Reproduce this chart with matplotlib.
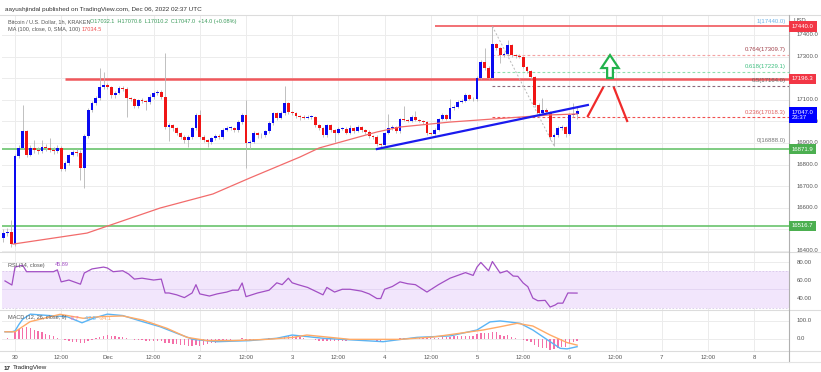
import numpy as np
import matplotlib
matplotlib.use("Agg")
import matplotlib.pyplot as plt
from matplotlib.patches import Polygon

# === Data (hourly candles, hour 0 = Nov 30 00:00) ===
hours = list(range(-3, 147))
first_open = 16460
closes = [16483, 16488, 16432, 16840, 16877, 16956, 16844, 16877, 16868, 16863,
          16881, 16877, 16868, 16863, 16877, 16780, 16807, 16844, 16858, 16854,
          16784, 16932, 17053, 17085, 17108, 17159, 17169, 17159, 17122, 17131,
          17155, 17150, 17108, 17104, 17071, 17099, 17094, 17090, 17113, 17131,
          17136, 17113, 16974, 16983, 16969, 16946, 16928, 16914, 16928, 16969,
          17030, 16928, 16914, 16905, 16923, 16932, 16928, 16960, 16969, 16969,
          16960, 16997, 17030, 16900, 16905, 16946, 16937, 16935, 16956, 16992,
          17039, 17016, 17039, 17085, 17044, 17039, 17025, 17020, 17018, 17020,
          17020, 16983, 16969, 16937, 16983, 16960, 16946, 16965, 16967, 16946,
          16969, 16955, 16974, 16960, 16951, 16932, 16928, 16895, 16893, 16946,
          16969, 16974, 16955, 17011, 17006, 17002, 17020, 17006, 17002, 16997,
          16946, 16944, 16960, 17011, 17030, 17011, 17062, 17067, 17090, 17094,
          17122, 17104, 17102, 17201, 17275, 17247, 17201, 17358, 17340, 17307,
          17312, 17354, 17307, 17303, 17300, 17252, 17233, 17206, 17076, 17039,
          17053, 17044, 16928, 16937, 16969, 16974, 16942, 17030, 17032.1, 17047]
highs = [16500, 16505, 16545, 16850, 16890, 17076, 16962, 16890, 16914, 16880,
         16915, 16895, 16923, 16880, 16892, 16885, 16815, 16850, 16866, 16870,
         16866, 16940, 17060, 17095, 17118, 17247, 17229, 17180, 17165, 17140,
         17162, 17165, 17158, 17115, 17110, 17105, 17108, 17100, 17125, 17140,
         17145, 17145, 17317, 16992, 16990, 16975, 16950, 16935, 16935, 16975,
         17037, 17055, 16935, 16920, 16930, 16940, 16940, 16968, 16978, 16980,
         16975, 17005, 17037, 17099, 16915, 16955, 16950, 16945, 16962, 17000,
         17045, 17045, 17046, 17165, 17090, 17050, 17045, 17030, 17028, 17028,
         17030, 17025, 16990, 16975, 16990, 16988, 16965, 16972, 16975, 16972,
         16985, 16975, 16982, 16980, 16965, 16958, 16938, 16935, 16900, 16952,
         17035, 16985, 16980, 17018, 17070, 17012, 17030, 17050, 17010, 17008,
         17000, 16952, 16968, 17018, 17038, 17035, 17105, 17075, 17100, 17105,
         17130, 17128, 17112, 17210, 17285, 17340, 17255, 17440, 17365, 17345,
         17320, 17375, 17360, 17312, 17310, 17305, 17258, 17238, 17212, 17085,
         17110, 17060, 17050, 16945, 16978, 16982, 16980, 17040, 17085, 17070.6]
lows = [16440, 16470, 16420, 16425, 16830, 16870, 16835, 16838, 16855, 16850,
        16855, 16865, 16860, 16850, 16855, 16772, 16770, 16800, 16838, 16840,
        16729, 16692, 16925, 17045, 17075, 17100, 17150, 17150, 17110, 17110,
        17125, 17140, 17020, 17095, 17060, 17062, 17085, 17055, 17082, 17105,
        17120, 17105, 16965, 16910, 16955, 16935, 16918, 16900, 16880, 16920,
        16960, 16920, 16905, 16882, 16895, 16915, 16920, 16920, 16955, 16960,
        16950, 16952, 16990, 16784, 16870, 16898, 16925, 16925, 16928, 16948,
        16985, 17008, 17010, 17030, 17035, 17030, 17015, 17005, 17010, 17012,
        17010, 16975, 16960, 16928, 16930, 16952, 16905, 16940, 16958, 16940,
        16940, 16948, 16950, 16952, 16944, 16925, 16920, 16885, 16877, 16888,
        16940, 16962, 16948, 16948, 17000, 16995, 16997, 17000, 16995, 16990,
        16938, 16935, 16938, 16955, 17005, 17005, 17005, 17055, 17060, 17085,
        17088, 17098, 17095, 17095, 17195, 17240, 17195, 17195, 17330, 17270,
        17300, 17305, 17300, 17295, 17292, 17245, 17225, 17198, 17068, 17030,
        17030, 17035, 16915, 16888, 16930, 16960, 16930, 16935, 17020, 17010.2]

# SMA(100) read at a few points
ma_hours = [-0.5, 18.7, 37.7, 51.4, 61, 74, 79, 94, 100, 113, 139, 146]
ma_values = [16432, 16483, 16599, 16664, 16738, 16835, 16877, 16951, 16974, 16997, 17030, 17034.5]

# RSI(14)
rsi_hours = [-2.6, -0.8, 0, 2, 3, 6.5, 10, 11, 12, 14, 17, 18, 20, 23, 24, 25.5, 28, 29.5,
             31, 33, 36, 38, 39, 40, 42, 44, 46, 47, 48, 50.5, 52.5, 55, 56.5, 58, 59,
             60, 63, 64.5, 66, 68, 69.4, 71, 72, 73.5, 76, 78, 80, 81, 83, 85, 87, 90,
             92, 94, 95, 96, 98, 100, 102, 104, 107, 110, 113, 115, 117, 119, 120, 121,
             123, 124, 126, 127.8, 129.4, 130.6, 132, 133.2, 134.5, 135.8, 137.7, 139,
             140.3, 141, 142.3, 143.6, 146]
rsi_values = [59, 54.6, 74, 76, 69, 69, 69, 71, 58, 60, 55.5, 67.6, 72, 74, 73, 69, 70, 66.5,
              61, 62, 60, 61, 46, 46, 44, 41, 46, 55, 45, 42.7, 45, 47, 49, 49, 56.8,
              42, 46, 47.5, 49, 57, 55, 62, 57, 55, 52, 48, 44, 52, 47, 50, 50, 48,
              45, 40, 40, 50, 53, 58, 56, 55, 47, 55, 62, 65, 68, 65, 74, 79,
              70, 80, 67.6, 70, 64.3, 64, 56.8, 52.8, 40.5, 37.6, 38, 30.8,
              33, 35, 35, 46, 45.89]

# MACD(12, 26, 9)
macd_hours = [-2.6, -0.8, 0, 1, 2, 4, 9, 13.5, 17.4, 20.3, 24, 28, 33.2, 37.7, 42.1, 46.2,
              52.5, 61, 68, 72, 80, 95.6, 104.4, 113, 120, 123.4, 126, 127.8, 131.2,
              134.5, 139, 141.6, 143.4, 146]
macd_values = [40, 40, 45, 80, 110, 138, 130, 124, 90, 115, 138, 130, 96, 68, 31, -2,
               -15, -9, 4, 22, 4, -15, 9, 17, 50, 95, 100, 96, 87,
               50, -15, -52, -55, -42.8]
signal_hours = [-2.6, 0, 3.9, 11.7, 17.7, 22.1, 28, 33.2, 39.5, 44.7, 49.9, 56.6, 65.5,
                72.2, 75.8, 87, 100, 108.6, 121.6, 126, 130.4, 134.5, 139, 143.4, 146]
signal_values = [40, 40, 96, 137, 115, 124, 128, 105, 59, 9, -9, -9, -2,
                 9, 22, -2, -2, 11, 50, 68, 87, 72, 22, -20, -34.1]
hist_values = [2, 3, 0, 40, 55, 62, 67, 60, 52, 45, 38, 30, 22, 15, 8, -2, -8, -12, -15, -18,
               -22, -20, -12, -5, 5, 12, 18, 20, 18, 15, 12, 10, 6, 2, -3, -5, -8, -10, -12, -12,
               -12, -13, -20, -24, -27, -30, -33, -36, -38, -40, -35, -38, -36, -30, -25, -20,
               -15, -10, -6, -3, -2, 2, 5, -3, -5, -4, -3, -2, 0, 3, 6, 8, 10, 14, 15, 14, 12,
               10, 6, 2, -2, -6, -9, -12, -10, -11, -12, -11, -10, -9, -8, -8, -7, -6, -6, -7,
               -8, -10, -11, -8, -5, -2, 0, 4, 6, 7, 8, 8, 8, 7, 4, 3, 4, 7, 9, 9, 12, 14, 16,
               17, 19, 19, 18, 25, 33, 35, 33, 40, 38, 22, 18, 20, 12, 6, 2, -4, -10, -18, -35,
               -45, -48, -50, -60, -58, -52, -45, -42, -30, -18, -8.7]

# levels / drawings
resistance_hi = 17440.0
resistance = 17196.3
support_1 = 16871.9
support_2 = 16516.7
fib_ratios = [1, 0.764, 0.618, 0.5, 0.236, 0]
fib_prices = [17440.0, 17309.7, 17229.1, 17164.0, 17018.3, 16888.0]
trend_hours = [94.0, 148.8]
trend_prices = [16872, 17076]
price_ticks = [16400, 16600, 16700, 16800, 16900, 17000, 17100, 17300, 17400]
time_ticks = list(range(0, 193, 12))
time_labels = ["30", "12:00", "Dec", "12:00", "2", "12:00", "3", "12:00", "4",
               "12:00", "5", "12:00", "6", "12:00", "7", "12:00", "8"]

# === Figure layout (pixel based) ===
plt.rcParams["font.family"] = "Liberation Sans"
W, H = 821, 372
fig = plt.figure(figsize=(W / 100, H / 100), dpi=100)
fig.patch.set_facecolor("white")


def fx(px):
    return px / W


def fy(py):
    return 1 - py / H


X0, X1 = (2 - 15) / 3.85, (789 - 15) / 3.85
GRID = "#ececec"
AXTXT = "#555555"
FS = 4.3
HFS = 4.0


def pane(top, bottom, ylo, yhi):
    ax = fig.add_axes([fx(2), fy(bottom), fx(789) - fx(2), fy(top) - fy(bottom)])
    ax.set_xlim(X0, X1)
    ax.set_ylim(ylo, yhi)
    for s in ax.spines.values():
        s.set_visible(False)
    ax.set_xticks([])
    ax.set_yticks([])
    for t in range(0, 205, 12):
        ax.axvline(t, color=GRID, lw=0.7, zorder=0)
    return ax


# --- main price pane ---
ax = pane(15, 252, 16395.4, 17492.6)
for p in range(16400, 17500, 100):
    ax.axhline(p, color=GRID, lw=0.7, zorder=0)

opens = [first_open] + closes[:-1]
o = np.array(opens)
c = np.array(closes)
up = c >= o
colors = np.where(up, "#0a0af0", "#f01515")
ax.vlines(hours, lows, highs, color="#b5b5b5", lw=0.6, zorder=2)
body_lo = np.minimum(o, c)
body_h = np.maximum(np.abs(c - o), 3)
ax.bar(hours, body_h, bottom=body_lo, width=0.75, color=colors, lw=0, zorder=3)

ax.plot(ma_hours, ma_values, color="#f26b6b", lw=0.9, zorder=4)

ax.hlines(support_1, X0, X1, color="#5cbf60", lw=1.1, zorder=1)
ax.hlines(support_2, X0, X1, color="#5cbf60", lw=1.1, zorder=1)
ax.hlines(resistance, 13, X1, color="#f0585c", lw=1.8, zorder=1)
ax.hlines(resistance_hi, 109, X1, color="#f0585c", lw=1.2, zorder=1)

fib_line_cols = ["#f0585c", "#f4a3a3", "#8fe0b0", "#8a6a7a", "#f05050", "#aaaaaa"]
fib_txt_cols = ["#6fb3e8", "#a0404a", "#3fbf80", "#666666", "#e06060", "#777777"]
for r, p, lc, tc in zip(fib_ratios, fib_prices, fib_line_cols, fib_txt_cols):
    if 0 < r < 1:
        ax.hlines(p, 124, X1, color=lc, lw=0.8, linestyles=(0, (2.5, 2)), zorder=1)
    ax.text(X1 - 0.8, p + 12, f"{r}({p:.1f})", color=tc, fontsize=FS,
            ha="right", va="bottom", zorder=5)
ax.plot([124, 140], [fib_prices[0], fib_prices[-1]], color="#b8b8b8", lw=0.7,
        ls=(0, (2, 2)), zorder=1)

ax.plot(trend_hours, trend_prices, color="#1a1aee", lw=1.6, zorder=5)

# arrows drawn on the chart
arrow = Polygon([(153.8, 17201), (155.3, 17201), (155.3, 17247), (156.8, 17247),
                 (154.55, 17307), (152.3, 17247), (153.8, 17247)],
                closed=True, fc="white", ec="#22b24c", lw=1.6, zorder=5)
ax.add_patch(arrow)
ax.plot([148.8, 152.7], [17025, 17155], color="#f02a2a", lw=1.6, zorder=5)
ax.plot([155.6, 159.0], [17155, 17002], color="#f02a2a", lw=1.6, zorder=5)

# --- RSI pane ---
axr = pane(252, 310, 27.6, 90.3)
for v in (80, 60, 40):
    axr.axhline(v, color=GRID, lw=0.7, zorder=0)
axr.axhspan(30, 70, color="#f2e6fc", zorder=0.5, lw=0)
axr.axhline(70, color="#d8c8ea", lw=0.6, ls=(0, (2, 2)), zorder=1)
axr.axhline(30, color="#d8c8ea", lw=0.6, ls=(0, (2, 2)), zorder=1)
axr.axhline(50, color="#e2d4f2", lw=0.6, zorder=1)
axr.plot(rsi_hours, rsi_values, color="#a24fc4", lw=0.9, zorder=3)

# --- MACD pane ---
axm = pane(310, 351, -66.7, 161)
for v in (100, 0):
    axm.axhline(v, color=GRID, lw=0.7, zorder=0)
axm.bar(hours, hist_values, width=0.35, color="#f46fa8", lw=0, zorder=2)
axm.plot(macd_hours, macd_values, color="#5ab4f5", lw=1.0, zorder=3)
axm.plot(signal_hours, signal_values, color="#ffaa66", lw=1.0, zorder=3)
axm.set_xticks(time_ticks)
axm.set_xticklabels(time_labels, fontsize=FS, color=AXTXT)
axm.tick_params(axis="x", length=0, pad=3)

# pane separators and frame
for yy in (15, 252, 310, 351):
    fig.add_artist(plt.Line2D([fx(0), fx(821)], [fy(yy), fy(yy)], color="#dcdcdc", lw=0.8))
fig.add_artist(plt.Line2D([fx(789), fx(789)], [fy(15), fy(362)], color="#b0b0b0", lw=0.8))
fig.add_artist(plt.Line2D([fx(0), fx(821)], [fy(362), fy(362)], color="#e4e4e4", lw=0.8))


# right axis labels
def price_y(p):
    return 35 + (17400 - p) * 0.216


fig.text(fx(793), fy(20), "USD", fontsize=FS, color=AXTXT, va="center")
for p in price_ticks:
    fig.text(fx(797), fy(price_y(p)), f"{p:.1f}", fontsize=FS, color=AXTXT, va="center")
for v, yy in ((80, 262), (60, 280), (40, 299)):
    fig.text(fx(797), fy(yy), f"{v:.2f}", fontsize=FS, color=AXTXT, va="center")
for v, yy in ((100, 321), (0, 339)):
    fig.text(fx(797), fy(yy), f"{v:.1f}", fontsize=FS, color=AXTXT, va="center")

tags = [(resistance_hi, "#f23645", f"{resistance_hi:.1f}"),
        (resistance, "#f23645", f"{resistance:.1f}"),
        (support_1, "#4caf50", f"{support_1:.1f}"),
        (support_2, "#4caf50", f"{support_2:.1f}")]
for p, col, lab in tags:
    fig.text(fx(792), fy(price_y(p)), lab, fontsize=FS, color="white", va="center",
             bbox=dict(boxstyle="square,pad=0.45", fc=col, ec="none"))
fig.text(fx(792), fy(price_y(closes[-1]) + 3.5), f"{closes[-1]:.1f}\n23:37", fontsize=FS,
         color="white", va="center", linespacing=1.1,
         bbox=dict(boxstyle="square,pad=0.45", fc="#0000ff", ec="none"))

# header texts
fig.text(fx(5), fy(10), "aayushjindal published on TradingView.com, Dec 06, 2022 02:37 UTC",
         fontsize=4.6, color="#333333", va="center")
fig.text(fx(8), fy(22), "Bitcoin / U.S. Dollar, 1h, KRAKEN", fontsize=HFS, color="#555555",
         va="center")
fig.text(fx(90), fy(22), "O17032.1  H17070.6  L17010.2  C17047.0  +14.0 (+0.08%)",
         fontsize=HFS, color="#3a9a5a", va="center")
fig.text(fx(8), fy(29.5), "MA (100, close, 0, SMA, 100)", fontsize=HFS, color="#555555",
         va="center")
fig.text(fx(82), fy(29.5), f"{ma_values[-1]:.1f}", fontsize=HFS, color="#f05050", va="center")
fig.text(fx(8), fy(265), "RSI (14, close)", fontsize=HFS, color="#555555", va="center")
fig.text(fx(55), fy(265), f"{rsi_values[-1]:.2f}", fontsize=HFS, color="#a24fc4", va="center")
fig.text(fx(8), fy(318), "MACD (12, 26, close, 9)", fontsize=HFS, color="#555555", va="center")
fig.text(fx(70), fy(318), f"{hist_values[-1]}", fontsize=HFS, color="#f46fa8", va="center")
fig.text(fx(84), fy(318), f"{macd_values[-1]}", fontsize=HFS, color="#5ab4f5", va="center")
fig.text(fx(99), fy(318), f"{signal_values[-1]}", fontsize=HFS, color="#ffaa66", va="center")
fig.text(fx(4), fy(368), "17", fontsize=4.5, color="#222222", va="center", weight="bold")
fig.text(fx(13), fy(368), "TradingView", fontsize=4.5, color="#222222", va="center")

fig.savefig("out.png", dpi=100)
